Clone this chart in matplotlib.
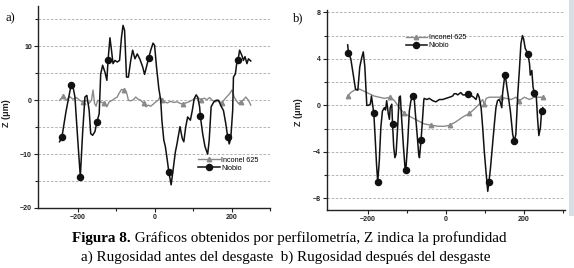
import matplotlib
matplotlib.use("Agg")
import matplotlib.pyplot as plt
from matplotlib.patches import Rectangle
import numpy as np

# ---------------- data ----------------
# Panel a: roughness before wear
nb_a_x = [-247, -241, -230, -217, -212, -207, -200, -193, -187, -181, -176, -170, -166, -161, -155, -150,
          -144, -140, -135, -129, -124, -121, -116, -112, -108, -103, -97, -91, -86, -82, -78, -73, -68,
          -62, -57, -51, -45, -38, -31, -26, -19, -15, -10, -4, 0, 5, 11, 16, 19, 24, 28, 33, 37, 43, 48,
          54, 58, 66, 72, 76, 81, 86, 93, 98, 103, 108, 112, 117, 119, 125, 131, 138, 142, 147, 154, 160,
          166, 173, 179, 185, 190, 194, 198, 203, 205, 210, 214, 217, 221, 227, 231, 235, 240, 244, 250]
nb_a_y = [-7.7, -6.9, -2.0, 2.8, 2.5, 0.6, -7.0, -14.2, -6.0, 0.6, 0.9, -1.9, -6.2, -6.5, -5.8, -4.1,
          -2.5, 4.9, 6.5, 5.2, 3.7, 7.4, 11.6, 9.3, 6.8, 7.4, 7.1, 7.4, 11.7, 13.9, 13.0, 4.3, 4.3,
          7.4, 9.3, 7.7, 8.6, 7.6, 6.2, 4.8, 6.8, 7.9, 9.3, 10.6, 10.2, 6.2, 2.2, 0.0, -3.7, -7.4, -8.6, -11.1, -13.3, -15.7, -13.0,
          -9.6, -8.2, -4.9, -7.1, -7.7, -4.9, -3.1, -3.7, -1.9, 0.3, 1.0, 0.6, -1.2, -3.0, -6.2, -8.6, -10.0, -7.4, -1.2, -0.3, 0.0,
          0.0, -1.1, -1.9, -4.3, -6.8, -8.1, -7.1, -1.9, 4.3, 4.9, 7.1, 7.5, 9.3, 8.3, 7.4, 8.1, 6.8, 7.7, 7.3]
nb_a_marks = [-241, -217, -193, -150, -121, -15, 37, 119, 190, 217]

in_a_x = [-247, -238, -229, -221, -212, -203, -195, -186, -177, -171, -164, -160, -156, -152, -148, -140,
          -131, -124, -118, -110, -104, -97, -93, -86, -79, -72, -68, -62, -55, -49, -43, -36, -28, -22,
          -16, -10, -3, 3, 9, 14, 20, 26, 33, 41, 50, 59, 67, 74, 81, 89, 97, 106, 114, 121, 129, 136,
          143, 150, 158, 166, 174, 180, 187, 195, 201, 207, 212, 218, 224, 231, 237, 244, 250]
in_a_y = [0.0, 0.7, 0.0, 0.7, 0.2, 0.5, 0.0, -0.3, 0.0, -0.6, 0.0, 1.9, -0.6, -1.1, 0.0, -0.3,
          -0.6, -1.2, -0.3, 0.0, 0.3, 0.6, 1.2, 2.0, 1.9, 1.2, 0.0, -0.1, 0.1, 0.6, 0.2, 0.0, -0.6, -1.2,
          -0.9, -1.1, -0.7, -0.3, 0.0, 0.6, 0.0, -0.3, -0.5, -0.2, -0.4, -0.3, -0.6, -0.7, -0.5, -0.3, 0.0, 0.3, 0.4, 0.1, 0.4, 0.1,
          0.5, 0.0, -0.3, -0.1, -0.5, 0.0, 0.6, 1.2, 1.9, 0.6, 0.0, -0.6, -0.3, 0.1, 0.6, 0.0, -0.9]
in_a_marks = [-238, -186, -131, -79, -28, 20, 74, 121, 174, 224]

# Panel b: roughness after wear
nb_b_x = [-252, -250, -244, -238, -232, -226, -221, -216, -212, -208, -203, -199, -194, -191, -185, -182,
          -178, -175, -171, -167, -163, -158, -155, -152, -148, -145, -143, -139, -137, -134, -131, -128,
          -124, -120, -117, -114, -109, -105, -103, -98, -94, -90, -85, -81, -79, -74, -70, -68, -64, -61,
          -57, -56, -49, -43, -34, -26, -17, -9, 0, 9, 17, 21, 26, 30, 34, 38, 43, 51, 56, 62, 71, 77, 81,
          85, 90, 94, 98, 103, 107, 110, 114, 120, 124, 128, 132, 136, 139, 143, 145, 150, 152, 156, 160,
          165, 171, 175, 179, 184, 188, 192, 196, 199, 203, 206, 210, 214, 216, 220, 223, 226, 231, 235,
          238, 242, 245, 248]
nb_b_y = [5.2, 4.5, 4.0, 2.7, 1.4, 1.3, 3.3, 4.1, 4.6, 3.3, 0.0, 0.0, 0.1, 0.8, -0.7, -2.5,
          -5.1, -6.6, -4.8, -1.9, -0.5, -0.2, -0.4, 0.4, -0.7, -1.2, -0.2, 0.1, -1.6, -3.6, -4.5, -4.2,
          -1.9, 0.7, 0.8, -1.0, -3.6, -5.4, -5.6, -3.1, -0.5, 0.4, 0.8, 0.4, -0.5, -2.5, -4.2, -4.5, -3.0, -1.6,
          0.4, 0.6, 0.5, 0.6, 0.4, 0.3, 0.5, 0.5, 0.6, 0.7, 0.8, 1.0, 1.0, 0.9, 1.0, 1.1, 0.9, 0.9, 1.0, 0.9, 0.7, 0.5, 1.0,
          0.7, -0.2, -1.9, -3.9, -5.9, -7.4, -6.6, -5.4, -3.1, -1.6, -0.2, 0.4, 0.5, 0.3, -0.2, 1.0, 2.4, 2.6, 1.6, 0.7,
          -0.5, -2.5, -3.1, -2.5, 1.0, 3.0, 5.3, 6.0, 5.7, 4.9, 4.7, 4.4, 3.6, 2.6, 3.0, 1.6, 1.1, 1.0, -1.3,
          -2.6, -1.9, -0.5, -0.2]
nb_b_marks = [-250, -185, -175, -137, -103, -85, -64, 56, 110, 152, 175, 210, 226, 245]

in_b_x = [-252, -244, -235, -222, -209, -197, -184, -171, -158, -143, -132, -120, -107, -90, -73, -56,
          -38, -21, -4, 10, 26, 43, 60, 73, 85, 94, 98, 103, 111, 124, 141, 154, 167, 179, 188, 201,
          214, 226, 248]
in_b_y = [0.8, 1.1, 1.3, 1.4, 1.2, 1.0, 0.8, 0.7, 0.6, 0.7, 0.4, -0.2, -0.7, -1.0, -1.3, -1.6,
          -1.7, -1.8, -1.8, -1.7, -1.4, -1.0, -0.7, -0.3, 0.1, 0.5, 0.1, 0.6, 0.7, 0.7, 0.7, 0.6, 0.5, 0.7, 0.4, 0.7,
          0.5, 0.7, 0.7]
in_b_marks = [-252, -143, -107, -38, 10, 60, 98, 141, 188, 248]

series_labels = ["Inconel 625", "Niobio"]
caption_bold = "Figura 8."
caption_rest = " Gráficos obtenidos por perfilometría, Z indica la profundidad"
caption_line2 = "a) Rugosidad antes del desgaste  b) Rugosidad después del desgaste"

# ---------------- style ----------------
W, H = 574, 268
fig = plt.figure(figsize=(W / 100, H / 100), dpi=100)
fig.patch.set_facecolor("white")

SANS = ["Liberation Sans", "DejaVu Sans"]
SERIF = ["Liberation Serif", "DejaVu Serif"]
GREY = "#8a8a8a"
BLACK = "#111111"

# scan artefact band at right edge
fig.patches.append(Rectangle((569 / W, 1 - 216 / H), 5 / W, 216 / H, transform=fig.transFigure,
                             facecolor="#d9dee6", edgecolor="none", zorder=0))


def idx_of(xs, marks):
    xs = np.asarray(xs)
    return [int(np.argmin(np.abs(xs - m))) for m in marks]


def px_axes(l, t, r, b):
    ax = fig.add_axes([l / W, 1 - b / H, (r - l) / W, (b - t) / H])
    ax.patch.set_alpha(0)
    return ax


def setup(ax, xlim, ylim, major_y, minor_y, grid_y):
    ax.set_xlim(*xlim)
    ax.set_ylim(*ylim)
    for s in ["top", "right"]:
        ax.spines[s].set_visible(False)
    for s in ["left", "bottom"]:
        ax.spines[s].set_linewidth(1.0)
        ax.spines[s].set_color("#222222")
    ax.set_xticks([-200, 0, 200])
    ax.set_xticks([-100, 100, 300], minor=True)
    ax.set_yticks(major_y)
    ax.set_yticks(minor_y, minor=True)
    ax.tick_params(which="both", direction="out", width=0.8, color="#222222", pad=1.5)
    ax.tick_params(which="major", length=2.8)
    ax.tick_params(which="minor", length=2.0)
    for lab in ax.get_xticklabels() + ax.get_yticklabels():
        lab.set_family(SANS)
        lab.set_fontsize(5)
        lab.set_fontweight("bold")
        lab.set_color("#222222")
    for g in grid_y:
        ax.axhline(g, color="#a8a8a8", lw=0.6, ls=(0, (3, 2)), zorder=0)
    ax.set_ylabel("Z (μm)", family=SANS, fontsize=6.5, fontweight="bold", labelpad=2, color="#222222")


def draw(ax, inx, iny, inm, nbx, nby, nbm):
    ax.plot(inx, iny, color=GREY, lw=1.0, marker="^", ms=3.2, markevery=idx_of(inx, inm),
            mfc=GREY, mec=GREY, label=series_labels[0], zorder=2)
    ax.plot(nbx, nby, color=BLACK, lw=1.1, marker="o", ms=4.4, markevery=idx_of(nbx, nbm),
            mfc=BLACK, mec=BLACK, label=series_labels[1], zorder=3)


# Panel a
axa = px_axes(38, 6, 270, 208)
setup(axa, (-303, 300), (-20, 17.5), [-20, -10, 0, 10], [-15, -5, 5, 15],
      [-15, -10, -5, 0, 5, 10, 15])
draw(axa, in_a_x, in_a_y, in_a_marks, nb_a_x, nb_a_y, nb_a_marks)
axa.yaxis.set_label_coords(-0.115, 0.47)
axa.legend(loc="upper left", bbox_to_anchor=(0.69, 0.255), frameon=False,
           prop={"family": SANS, "size": 5.2}, handlelength=3.0, handletextpad=0.2,
           labelspacing=0.15, borderpad=0, borderaxespad=0)

# Panel b
axb = px_axes(327, 10, 565, 210)
setup(axb, (-305, 305), (-9, 8.2), [-8, -4, 0, 4, 8], [-6, -2, 2, 6],
      [-8, -6, -4, -2, 0, 2, 4, 6, 8])
draw(axb, in_b_x, in_b_y, in_b_marks, nb_b_x, nb_b_y, nb_b_marks)
axb.yaxis.set_label_coords(-0.1, 0.49)
axb.legend(loc="upper left", bbox_to_anchor=(0.33, 0.88), frameon=False,
           prop={"family": SANS, "size": 5.2}, handlelength=3.0, handletextpad=0.2,
           labelspacing=0.15, borderpad=0, borderaxespad=0)

# panel letters
fig.text(5 / W, 1 - 18 / H, "a)", family=SERIF, fontsize=9, va="center", ha="left")
fig.text(293 / W, 1 - 18 / H, "b)", family=SERIF, fontsize=9, va="center", ha="left")

# caption
fig.canvas.draw()
r = fig.canvas.get_renderer()
t1 = fig.text(72 / W, 1 - 242 / H, caption_bold, family=SERIF, fontsize=10.9, fontweight="bold",
              va="baseline", ha="left")
bb = t1.get_window_extent(renderer=r)
fig.text(bb.x1 / W, 1 - 242 / H, caption_rest, family=SERIF, fontsize=10.9, va="baseline", ha="left")
fig.text(81 / W, 1 - 261 / H, caption_line2, family=SERIF, fontsize=10.9, va="baseline", ha="left")

fig.savefig("out.png", dpi=100)
